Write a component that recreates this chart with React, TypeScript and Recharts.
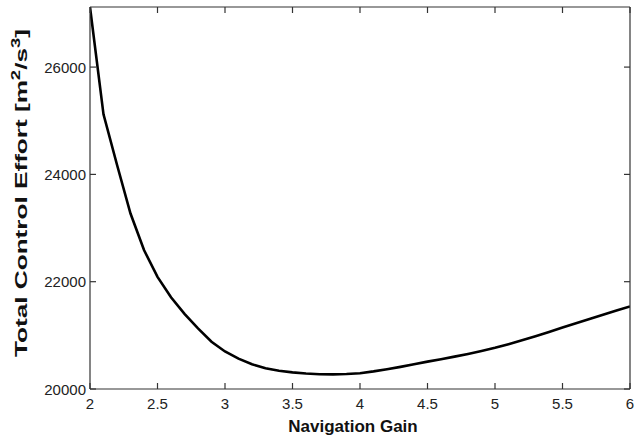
import React from 'react';
import { LineChart, Line, XAxis, YAxis } from 'recharts';

// navigation gain vs. total control effort
const gains = [
  2.0, 2.1, 2.2, 2.3, 2.4, 2.5, 2.6, 2.7, 2.8, 2.9,
  3.0, 3.1, 3.2, 3.3, 3.4, 3.5, 3.6, 3.7, 3.8, 3.9,
  4.0, 4.1, 4.2, 4.3, 4.4, 4.5, 4.6, 4.7, 4.8, 4.9,
  5.0, 5.1, 5.2, 5.3, 5.4, 5.5, 5.6, 5.7, 5.8, 5.9, 6.0,
];
const effort = [
  27120, 25120, 24180, 23270, 22590, 22090, 21710, 21400, 21130, 20880,
  20700, 20565, 20460, 20385, 20340, 20310, 20290, 20276, 20272, 20280,
  20295, 20328, 20368, 20412, 20460, 20510, 20555, 20603, 20654, 20709,
  20767, 20835, 20907, 20983, 21063, 21145, 21225, 21304, 21383, 21462, 21540,
];
const xTicks = [2, 2.5, 3, 3.5, 4, 4.5, 5, 5.5, 6];
const yTicks = [20000, 22000, 24000, 26000];
const X_DOMAIN = [2, 6];
const Y_DOMAIN = [20000, 27120];

const data = gains.map((g, i) => ({ gain: g, effort: effort[i] }));

const FONT = '"Liberation Sans", Arial, Helvetica, sans-serif';
const FRAME = '#333';
const TICK_LEN = 6;
const X_MARGIN = 6;
const Y_MARGIN = 4;

// bottom/left: labels outside, tick marks pointing into the plot
const BottomTick = ({ x, y, payload }: any) => {
  const base = y - X_MARGIN;
  return (
    <g>
      <line x1={x} x2={x} y1={base} y2={base - TICK_LEN} stroke={FRAME} strokeWidth={1.2} />
      <text x={x} y={y + 14} textAnchor="middle" fontSize={15} fontFamily={FONT} fill="#222">
        {payload.value}
      </text>
    </g>
  );
};

const LeftTick = ({ x, y, payload }: any) => {
  const base = x + Y_MARGIN;
  return (
    <g>
      <line x1={base} x2={base + TICK_LEN} y1={y} y2={y} stroke={FRAME} strokeWidth={1.2} />
      <text x={x} y={y + 5.5} textAnchor="end" fontSize={15} fontFamily={FONT} fill="#222">
        {payload.value}
      </text>
    </g>
  );
};

const XLabel = ({ viewBox }: any) => (
  <text
    x={viewBox.x + viewBox.width / 2 - 7}
    y={viewBox.y + 43}
    textAnchor="middle"
    fontSize={17}
    fontWeight="bold"
    fontFamily={FONT}
    fill="#111"
  >
    Navigation Gain
  </text>
);

const YLabel = ({ viewBox }: any) => {
  const cx = viewBox.x + 27;
  const cy = viewBox.y + viewBox.height / 2 - 5;
  return (
    <text
      x={cx}
      y={cy}
      transform={`rotate(-90 ${cx} ${cy})`}
      textAnchor="middle"
      fontSize={17}
      fontWeight="bold"
      fontFamily={FONT}
      fill="#111"
      textLength={328}
      lengthAdjust="spacingAndGlyphs"
    >
      Total Control Effort [m
      <tspan dy={-7} fontSize={12}>2</tspan>
      <tspan dy={7}>/s</tspan>
      <tspan dy={-7} fontSize={12}>3</tspan>
      <tspan dy={7}>]</tspan>
    </text>
  );
};

export default function App() {
  return (
    <div style={{ position: 'absolute', left: 0, top: 0, width: 634, height: 443, background: '#fff' }}>
      <LineChart width={634} height={443} data={data} margin={{ top: 7, right: 4, bottom: 0, left: 0 }}>
        <XAxis
          dataKey="gain"
          type="number"
          domain={X_DOMAIN}
          allowDataOverflow
          ticks={xTicks}
          height={54}
          tickSize={0}
          tickMargin={X_MARGIN}
          tick={<BottomTick />}
          axisLine={{ stroke: FRAME, strokeWidth: 1.2 }}
          interval={0}
          label={<XLabel />}
        />
        {/* top edge of the box, ticks inward, no labels */}
        <XAxis
          xAxisId="top"
          orientation="top"
          dataKey="gain"
          type="number"
          domain={X_DOMAIN}
          allowDataOverflow
          ticks={xTicks}
          mirror
          height={1}
          tickSize={TICK_LEN}
          tickFormatter={() => ''}
          axisLine={{ stroke: FRAME, strokeWidth: 1.2 }}
          tickLine={{ stroke: FRAME, strokeWidth: 1.2 }}
          interval={0}
        />
        <YAxis
          type="number"
          domain={Y_DOMAIN}
          allowDataOverflow
          ticks={yTicks}
          width={90}
          tickSize={0}
          tickMargin={Y_MARGIN}
          tick={<LeftTick />}
          axisLine={{ stroke: FRAME, strokeWidth: 1.2 }}
          interval={0}
          label={<YLabel />}
        />
        {/* right edge of the box, ticks inward, no labels */}
        <YAxis
          yAxisId="right"
          orientation="right"
          type="number"
          domain={Y_DOMAIN}
          allowDataOverflow
          ticks={yTicks}
          mirror
          width={1}
          tickSize={TICK_LEN}
          tickFormatter={() => ''}
          axisLine={{ stroke: FRAME, strokeWidth: 1.2 }}
          tickLine={{ stroke: FRAME, strokeWidth: 1.2 }}
          interval={0}
        />
        {/* invisible copy so the top/right axes share the data domain */}
        <Line
          xAxisId="top"
          yAxisId="right"
          dataKey="effort"
          type="linear"
          stroke="transparent"
          strokeWidth={0}
          dot={false}
          activeDot={false}
          legendType="none"
          isAnimationActive={false}
        />
        <Line
          dataKey="effort"
          type="linear"
          stroke="#000"
          strokeWidth={2.6}
          dot={false}
          isAnimationActive={false}
        />
      </LineChart>
    </div>
  );
}
